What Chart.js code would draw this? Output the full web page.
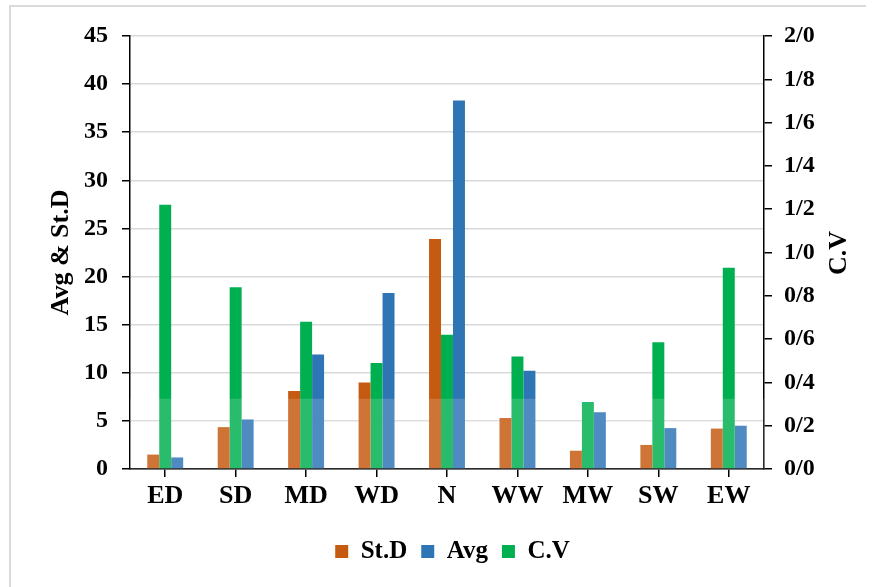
<!DOCTYPE html>
<html>
<head>
<meta charset="utf-8">
<title>Avg, St.D and C.V</title>
<script src="https://cdn.jsdelivr.net/npm/chart.js@4/dist/chart.umd.min.js"></script>
<style>
    html, body { margin: 0; padding: 0; background: #ffffff; }
    #wrap { position: relative; width: 875px; height: 587px; }
</style>
</head>
<body>
<div id="wrap"><canvas id="myChart" width="875" height="587"></canvas></div>
<script>
//--- Data
var categories = ['ED', 'SD', 'MD', 'WD', 'N', 'WW', 'MW', 'SW', 'EW'];
var stdValues = [1.5, 4.35, 8.1, 9.0, 23.9, 5.3, 1.9, 2.5, 4.2];
var avgValues = [1.2, 5.15, 11.9, 18.3, 38.3, 10.2, 5.9, 4.25, 4.5];
var cvValues = [1.22, 0.84, 0.68, 0.49, 0.62, 0.52, 0.31, 0.585, 0.93];
var leftTicks = [0, 45, 5];      // min, max, step
var rightTicks = [0, 2, 0.2];
var seriesNames = ['St.D', 'Avg', 'C.V'];

var FONT = "'Liberation Serif', 'Times New Roman', serif";

// frame + watermark band + right title
var extras = {
    id: 'extras',
    beforeDraw: function (chart) {
        var ctx = chart.ctx;
        ctx.save();
        ctx.strokeStyle = '#d9d9d9';
        ctx.lineWidth = 2;
        ctx.beginPath();
        ctx.moveTo(10, 600);
        ctx.lineTo(10, 6);
        ctx.lineTo(866, 6);
        ctx.stroke();
        ctx.restore();
    },
    afterDatasetsDraw: function (chart) {
        var ctx = chart.ctx;
        var a = chart.chartArea;
        var yTop = chart.scales.y.getPixelForValue(7.3);
        ctx.save();
        ctx.fillStyle = 'rgba(255,255,255,0.16)';
        ctx.fillRect(a.left, yTop, a.right - a.left, a.bottom - yTop);
        ctx.restore();
    },
    afterDraw: function (chart) {
        var ctx = chart.ctx;
        ctx.save();
        ctx.translate(839, 253);
        ctx.rotate(-Math.PI / 2);
        ctx.font = 'bold 26px ' + FONT;
        ctx.fillStyle = '#000';
        ctx.textAlign = 'center';
        ctx.textBaseline = 'middle';
        ctx.fillText('C.V', 0, 0);
        ctx.restore();
    }
};

var legendRank = [0, 2, 1]; // dataset index -> legend position

var ctx = document.getElementById('myChart');
var myChart = new Chart(ctx, {
    type: 'bar',
    data: {
        labels: categories,
        datasets: [{
            label: seriesNames[0],
            data: stdValues,
            backgroundColor: '#C55A11',
            yAxisID: 'y'
        }, {
            label: seriesNames[2],
            data: cvValues,
            backgroundColor: '#00B050',
            yAxisID: 'y2'
        }, {
            label: seriesNames[1],
            data: avgValues,
            backgroundColor: '#2E75B6',
            yAxisID: 'y'
        }]
    },
    options: {
        responsive: false,
        animation: false,
        categoryPercentage: 0.51,
        barPercentage: 1.0,
        layout: { padding: { top: 36, left: 30, right: 0, bottom: 13 } },
        plugins: {
            tooltip: { enabled: false },
            legend: {
                position: 'bottom',
                labels: {
                    boxWidth: 13,
                    boxHeight: 13,
                    padding: 14,
                    color: '#000',
                    font: { family: FONT, size: 25, weight: 'bold' },
                    sort: function (a, b) {
                        return legendRank[a.datasetIndex] - legendRank[b.datasetIndex];
                    }
                }
            }
        },
        scales: {
            x: {
                grid: {
                    offset: false,
                    drawOnChartArea: false,
                    tickLength: 8,
                    tickColor: '#000',
                    lineWidth: 1.5
                },
                border: { color: '#000', width: 1.5 },
                ticks: {
                    color: '#000',
                    padding: 4,
                    font: { family: FONT, size: 26, weight: 'bold' }
                },
                afterFit: function (scale) { scale.height = 56; }
            },
            y: {
                position: 'left',
                min: leftTicks[0],
                max: leftTicks[1],
                ticks: {
                    stepSize: leftTicks[2],
                    color: '#000',
                    padding: 14,
                    font: { family: FONT, size: 24, weight: 'bold' }
                },
                grid: {
                    color: '#d9d9d9',
                    lineWidth: 1.5,
                    tickLength: 8,
                    tickColor: '#000'
                },
                border: { color: '#000', width: 1.5 },
                title: {
                    display: true,
                    text: 'Avg & St.D',
                    color: '#000',
                    padding: { top: 16, bottom: 0 },
                    font: { family: FONT, size: 26, weight: 'bold' }
                },
                afterFit: function (scale) { scale.width = 100; }
            },
            y2: {
                position: 'right',
                min: rightTicks[0],
                max: rightTicks[1],
                ticks: {
                    stepSize: rightTicks[2],
                    color: '#000',
                    padding: 12,
                    font: { family: FONT, size: 24, weight: 'bold' },
                    callback: function (v) { return v.toFixed(1).replace('.', '/'); }
                },
                grid: {
                    drawOnChartArea: false,
                    tickLength: 8,
                    tickColor: '#000',
                    lineWidth: 1.5
                },
                border: { color: '#000', width: 1.5 },
                afterFit: function (scale) { scale.width = 111; }
            }
        }
    },
    plugins: [extras]
});
console.log('chart ready');
</script>
</body>
</html>
